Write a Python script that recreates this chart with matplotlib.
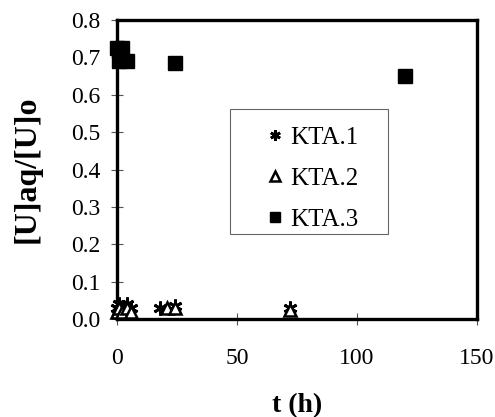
import numpy as np
import matplotlib.pyplot as plt
from matplotlib.patches import Rectangle

plt.rcParams['font.family'] = ['Liberation Serif', 'DejaVu Serif']

# KTA.1 (asterisk)
t_kta1 = [0, 1, 2, 4, 6, 18, 24, 72]
u_kta1 = [0.03, 0.04, 0.03, 0.04, 0.03, 0.03, 0.035, 0.03]

# KTA.2 (open triangle)
t_kta2 = [0, 1, 2, 4, 6, 21, 24, 72]
u_kta2 = [0.02, 0.03, 0.02, 0.03, 0.02, 0.03, 0.03, 0.025]

# KTA.3 (filled square)
t_kta3 = [0, 1, 2, 4, 24, 120]
u_kta3 = [0.724, 0.689, 0.724, 0.689, 0.685, 0.651]

xticks = [0, 50, 100, 150]
yticks = np.arange(0, 0.81, 0.1)

W, H = 495, 417
fig = plt.figure(figsize=(W / 100, H / 100), dpi=100)
ax = fig.add_axes([117/W, 1 - 319/H, 360/W, 299/H])

ax.plot(t_kta1, u_kta1, linestyle='none', marker=(6, 2, 0), markersize=10,
        markeredgewidth=2, color='black', label='KTA.1', clip_on=False, zorder=3)
ax.plot(t_kta2, u_kta2, linestyle='none', marker='^', markersize=9,
        markeredgewidth=1.8, markerfacecolor='white', markeredgecolor='black',
        label='KTA.2', clip_on=False, zorder=3)
ax.plot(t_kta3, u_kta3, linestyle='none', marker='s', markersize=9.5,
        color='black', label='KTA.3', clip_on=False, zorder=3)

ax.set_xlim(0, 150)
ax.set_ylim(0, 0.8)
ax.set_xticks(xticks)
ax.set_yticks(yticks)
ax.set_yticklabels(['%.1f' % v for v in yticks])

for s in ax.spines.values():
    s.set_linewidth(2.4)
ax.tick_params(direction='inout', length=8, width=0.8, color='#555555',
               labelsize=17)
ax.tick_params(axis='x', pad=17)
ax.tick_params(axis='y', pad=8)

ax.set_xlabel('t (h)', fontsize=20, fontweight='bold', labelpad=17)
ax.set_ylabel('[U]aq/[U]o', fontsize=23, fontweight='bold', labelpad=21)

# legend box drawn separately, entries without frame on top of it
box = Rectangle((230/W, 1 - 234/H), 158/W, 125/H, transform=fig.transFigure,
                facecolor='white', edgecolor='#666666', linewidth=0.8,
                zorder=4, clip_on=False)
ax.add_patch(box)
leg = ax.legend(loc='upper left', bbox_to_anchor=(260/W, 1 - 126/H),
                bbox_transform=fig.transFigure, fontsize=18, frameon=False,
                labelspacing=0.75, borderpad=0, handlelength=1.2,
                handletextpad=0.0, borderaxespad=0, markerscale=0.75)
leg.set_zorder(5)

fig.savefig('out.png', dpi=100)
